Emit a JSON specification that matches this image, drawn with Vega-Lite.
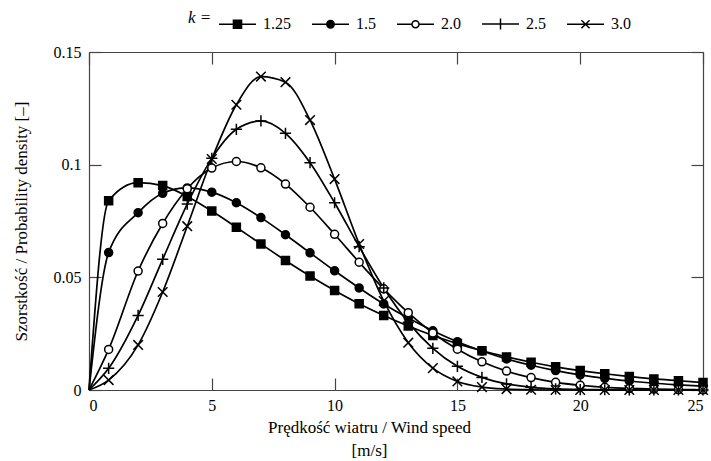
{
  "$schema": "https://vega.github.io/schema/vega-lite/v6.json",
  "width": 614,
  "height": 338,
  "autosize": {"type": "none"},
  "padding": {"left": 89, "top": 52, "right": 8, "bottom": 71},
  "background": "white",
  "config": {
    "font": "Liberation Serif",
    "view": {"stroke": null},
    "axis": {
      "grid": false,
      "domainColor": "#444",
      "domainWidth": 1.2,
      "tickColor": "#444",
      "tickWidth": 1.2,
      "labelColor": "black",
      "titleColor": "black",
      "labelFontSize": 16,
      "titleFontSize": 17,
      "titleFontWeight": "normal",
      "labelFont": "Liberation Serif",
      "titleFont": "Liberation Serif"
    },
    "legend": {"labelFont": "Liberation Serif", "titleFont": "Liberation Serif"}
  },
  "data": {
    "values": [
      {"k": "1.25", "x": 0, "y": 0}, {"k": "1.25", "x": 0.8, "y": 0.084}, {"k": "1.25", "x": 2, "y": 0.092}, {"k": "1.25", "x": 3, "y": 0.0907}, {"k": "1.25", "x": 4, "y": 0.0859}, {"k": "1.25", "x": 5, "y": 0.0794}, {"k": "1.25", "x": 6, "y": 0.0722}, {"k": "1.25", "x": 7, "y": 0.0648}, {"k": "1.25", "x": 8, "y": 0.0575}, {"k": "1.25", "x": 9, "y": 0.0506}, {"k": "1.25", "x": 10, "y": 0.0442}, {"k": "1.25", "x": 11, "y": 0.0383}, {"k": "1.25", "x": 12, "y": 0.0331}, {"k": "1.25", "x": 13, "y": 0.0284}, {"k": "1.25", "x": 14, "y": 0.0242}, {"k": "1.25", "x": 15, "y": 0.0206}, {"k": "1.25", "x": 16, "y": 0.0174}, {"k": "1.25", "x": 17, "y": 0.0147}, {"k": "1.25", "x": 18, "y": 0.0123}, {"k": "1.25", "x": 19, "y": 0.0103}, {"k": "1.25", "x": 20, "y": 0.0086}, {"k": "1.25", "x": 21, "y": 0.0072}, {"k": "1.25", "x": 22, "y": 0.006}, {"k": "1.25", "x": 23, "y": 0.0049}, {"k": "1.25", "x": 24, "y": 0.0041}, {"k": "1.25", "x": 25, "y": 0.0033},
      {"k": "1.5", "x": 0, "y": 0}, {"k": "1.5", "x": 0.8, "y": 0.061}, {"k": "1.5", "x": 2, "y": 0.0787}, {"k": "1.5", "x": 3, "y": 0.0873}, {"k": "1.5", "x": 4, "y": 0.0897}, {"k": "1.5", "x": 5, "y": 0.0878}, {"k": "1.5", "x": 6, "y": 0.0831}, {"k": "1.5", "x": 7, "y": 0.0765}, {"k": "1.5", "x": 8, "y": 0.0689}, {"k": "1.5", "x": 9, "y": 0.0609}, {"k": "1.5", "x": 10, "y": 0.0529}, {"k": "1.5", "x": 11, "y": 0.0453}, {"k": "1.5", "x": 12, "y": 0.0382}, {"k": "1.5", "x": 13, "y": 0.0319}, {"k": "1.5", "x": 14, "y": 0.0263}, {"k": "1.5", "x": 15, "y": 0.0214}, {"k": "1.5", "x": 16, "y": 0.0173}, {"k": "1.5", "x": 17, "y": 0.0138}, {"k": "1.5", "x": 18, "y": 0.011}, {"k": "1.5", "x": 19, "y": 0.0086}, {"k": "1.5", "x": 20, "y": 0.0067}, {"k": "1.5", "x": 21, "y": 0.0052}, {"k": "1.5", "x": 22, "y": 0.004}, {"k": "1.5", "x": 23, "y": 0.003}, {"k": "1.5", "x": 24, "y": 0.0023}, {"k": "1.5", "x": 25, "y": 0.0017},
      {"k": "2.0", "x": 0, "y": 0}, {"k": "2.0", "x": 0.8, "y": 0.018}, {"k": "2.0", "x": 2, "y": 0.0528}, {"k": "2.0", "x": 3, "y": 0.0739}, {"k": "2.0", "x": 4, "y": 0.0893}, {"k": "2.0", "x": 5, "y": 0.0985}, {"k": "2.0", "x": 6, "y": 0.1014}, {"k": "2.0", "x": 7, "y": 0.0986}, {"k": "2.0", "x": 8, "y": 0.0914}, {"k": "2.0", "x": 9, "y": 0.0811}, {"k": "2.0", "x": 10, "y": 0.0691}, {"k": "2.0", "x": 11, "y": 0.0567}, {"k": "2.0", "x": 12, "y": 0.0449}, {"k": "2.0", "x": 13, "y": 0.0343}, {"k": "2.0", "x": 14, "y": 0.0253}, {"k": "2.0", "x": 15, "y": 0.0181}, {"k": "2.0", "x": 16, "y": 0.0125}, {"k": "2.0", "x": 17, "y": 0.0084}, {"k": "2.0", "x": 18, "y": 0.0055}, {"k": "2.0", "x": 19, "y": 0.0034}, {"k": "2.0", "x": 20, "y": 0.0021}, {"k": "2.0", "x": 21, "y": 0.0012}, {"k": "2.0", "x": 22, "y": 0.0007}, {"k": "2.0", "x": 23, "y": 0.0004}, {"k": "2.0", "x": 24, "y": 0.0002}, {"k": "2.0", "x": 25, "y": 0.0001},
      {"k": "2.5", "x": 0, "y": 0}, {"k": "2.5", "x": 0.8, "y": 0.0096}, {"k": "2.5", "x": 2, "y": 0.0331}, {"k": "2.5", "x": 3, "y": 0.058}, {"k": "2.5", "x": 4, "y": 0.0825}, {"k": "2.5", "x": 5, "y": 0.1028}, {"k": "2.5", "x": 6, "y": 0.1157}, {"k": "2.5", "x": 7, "y": 0.1194}, {"k": "2.5", "x": 8, "y": 0.1139}, {"k": "2.5", "x": 9, "y": 0.1009}, {"k": "2.5", "x": 10, "y": 0.0831}, {"k": "2.5", "x": 11, "y": 0.0636}, {"k": "2.5", "x": 12, "y": 0.0453}, {"k": "2.5", "x": 13, "y": 0.03}, {"k": "2.5", "x": 14, "y": 0.0185}, {"k": "2.5", "x": 15, "y": 0.0105}, {"k": "2.5", "x": 16, "y": 0.0056}, {"k": "2.5", "x": 17, "y": 0.0027}, {"k": "2.5", "x": 18, "y": 0.0012}, {"k": "2.5", "x": 19, "y": 0.0005}, {"k": "2.5", "x": 20, "y": 0.0002}, {"k": "2.5", "x": 21, "y": 0.0001}, {"k": "2.5", "x": 22, "y": 0}, {"k": "2.5", "x": 23, "y": 0}, {"k": "2.5", "x": 24, "y": 0}, {"k": "2.5", "x": 25, "y": 0},
      {"k": "3.0", "x": 0, "y": 0}, {"k": "3.0", "x": 0.8, "y": 0.0044}, {"k": "3.0", "x": 2, "y": 0.02}, {"k": "3.0", "x": 3, "y": 0.0435}, {"k": "3.0", "x": 4, "y": 0.0727}, {"k": "3.0", "x": 5, "y": 0.1025}, {"k": "3.0", "x": 6, "y": 0.1266}, {"k": "3.0", "x": 7, "y": 0.1391}, {"k": "3.0", "x": 8, "y": 0.1366}, {"k": "3.0", "x": 9, "y": 0.1198}, {"k": "3.0", "x": 10, "y": 0.0936}, {"k": "3.0", "x": 11, "y": 0.0648}, {"k": "3.0", "x": 12, "y": 0.0395}, {"k": "3.0", "x": 13, "y": 0.021}, {"k": "3.0", "x": 14, "y": 0.0097}, {"k": "3.0", "x": 15, "y": 0.0038}, {"k": "3.0", "x": 16, "y": 0.0013}, {"k": "3.0", "x": 17, "y": 0.0004}, {"k": "3.0", "x": 18, "y": 0.0001}, {"k": "3.0", "x": 19, "y": 0}, {"k": "3.0", "x": 20, "y": 0}, {"k": "3.0", "x": 21, "y": 0}, {"k": "3.0", "x": 22, "y": 0}, {"k": "3.0", "x": 23, "y": 0}, {"k": "3.0", "x": 24, "y": 0}, {"k": "3.0", "x": 25, "y": 0}
    ]
  },
  "resolve": {
    "axis": {"x": "independent", "y": "independent"},
    "scale": {"shape": "independent", "fill": "independent", "stroke": "independent"}
  },
  "layer": [
    {
      "mark": {"type": "line", "interpolate": "monotone", "color": "black", "strokeWidth": 1.7},
      "encoding": {
        "x": {
          "field": "x", "type": "quantitative",
          "scale": {"domain": [0, 25], "nice": false, "zero": true},
          "axis": {
            "orient": "bottom",
            "values": [0, 5, 10, 15, 20, 25],
            "tickSize": -12,
            "labelPadding": 19,
            "title": ["Prędkość wiatru / Wind speed", "[m/s]"],
            "titleX": 280,
            "titlePadding": 6,
            "titleLineHeight": 23
          }
        },
        "y": {
          "field": "y", "type": "quantitative",
          "scale": {"domain": [0, 0.15], "nice": false},
          "axis": {
            "orient": "left",
            "values": [0, 0.05, 0.1, 0.15],
            "format": ".2~f",
            "tickSize": -12,
            "labelPadding": 20,
            "labelOverlap": false,
            "labelFlush": false,
            "title": "Szorstkość / Probability density [–]",
            "titlePadding": 23
          }
        },
        "detail": {"field": "k", "type": "nominal"}
      }
    },
    {
      "transform": [{"filter": "datum.x > 0"}],
      "mark": {"type": "point", "filled": false, "size": 64, "strokeWidth": 1.5, "stroke": "black", "opacity": 1},
      "encoding": {
        "x": {
          "field": "x", "type": "quantitative",
          "axis": {"orient": "top", "values": [0, 5, 10, 15, 20, 25], "labels": false, "title": null, "tickSize": -12}
        },
        "y": {
          "field": "y", "type": "quantitative",
          "axis": {"orient": "right", "values": [0, 0.05, 0.1, 0.15], "labels": false, "title": null, "tickSize": -12}
        },
        "shape": {
          "field": "k", "type": "nominal",
          "scale": {
            "range": ["square", "circle", "circle", "M-1.4,0H1.4M0,-1.4V1.4", "M-1.2,-1.2L1.2,1.2M-1.2,1.2L1.2,-1.2"]
          },
          "legend": null
        },
        "fill": {
          "field": "k", "type": "nominal",
          "scale": {"range": ["black", "black", "white", "transparent", "transparent"]},
          "legend": null
        }
      }
    },
    {
      "transform": [{"filter": "datum.x == 0"}],
      "mark": {"type": "point", "filled": false, "size": 64, "strokeWidth": 1.5, "opacity": 0},
      "encoding": {
        "x": {"field": "x", "type": "quantitative", "axis": null},
        "y": {"field": "y", "type": "quantitative", "axis": null},
        "shape": {
          "field": "k", "type": "nominal",
          "scale": {
            "domain": ["1.25", "1.5", "2.0", "2.5", "3.0"],
            "range": [
              "M-1,0H1M-0.22,-0.22H0.22V0.22H-0.22Z",
              "M-1,0H1M-0.2,0A0.2,0.2,0,1,0,0.2,0A0.2,0.2,0,1,0,-0.2,0Z",
              "M-1,0H-0.19M0.19,0H1M-0.19,0A0.19,0.19,0,1,0,0.19,0A0.19,0.19,0,1,0,-0.19,0Z",
              "M-1,0H1M0,-0.3V0.3",
              "M-1,0H1M-0.22,-0.22L0.22,0.22M-0.22,0.22L0.22,-0.22"
            ]
          },
          "legend": {
            "orient": "none",
            "legendX": 99,
            "legendY": -48,
            "direction": "horizontal",
            "title": "k =",
            "titleOrient": "left",
            "titleFontStyle": "italic",
            "titleFontWeight": "normal",
            "titleFontSize": 17,
            "titleColor": "black",
            "titleBaseline": "middle",
            "titlePadding": 6,
            "labelFontSize": 16,
            "labelColor": "black",
            "symbolSize": 1369,
            "symbolOpacity": 1,
            "symbolStrokeWidth": 1.5,
            "symbolStrokeColor": "black",
            "columnPadding": 18,
            "labelOffset": 6,
            "encode": {
              "symbols": {
                "stroke": {"value": "black"},
                "strokeWidth": {"value": 1.5},
                "opacity": {"value": 1}
              }
            }
          }
        },
        "fill": {
          "field": "k", "type": "nominal",
          "scale": {"domain": ["1.25", "1.5", "2.0", "2.5", "3.0"], "range": ["black", "black", "white", "transparent", "transparent"]},
          "legend": null
        },
        "stroke": {
          "field": "k", "type": "nominal",
          "scale": {"domain": ["1.25", "1.5", "2.0", "2.5", "3.0"], "range": ["black", "black", "black", "black", "black"]},
          "legend": null
        }
      }
    }
  ]
}
